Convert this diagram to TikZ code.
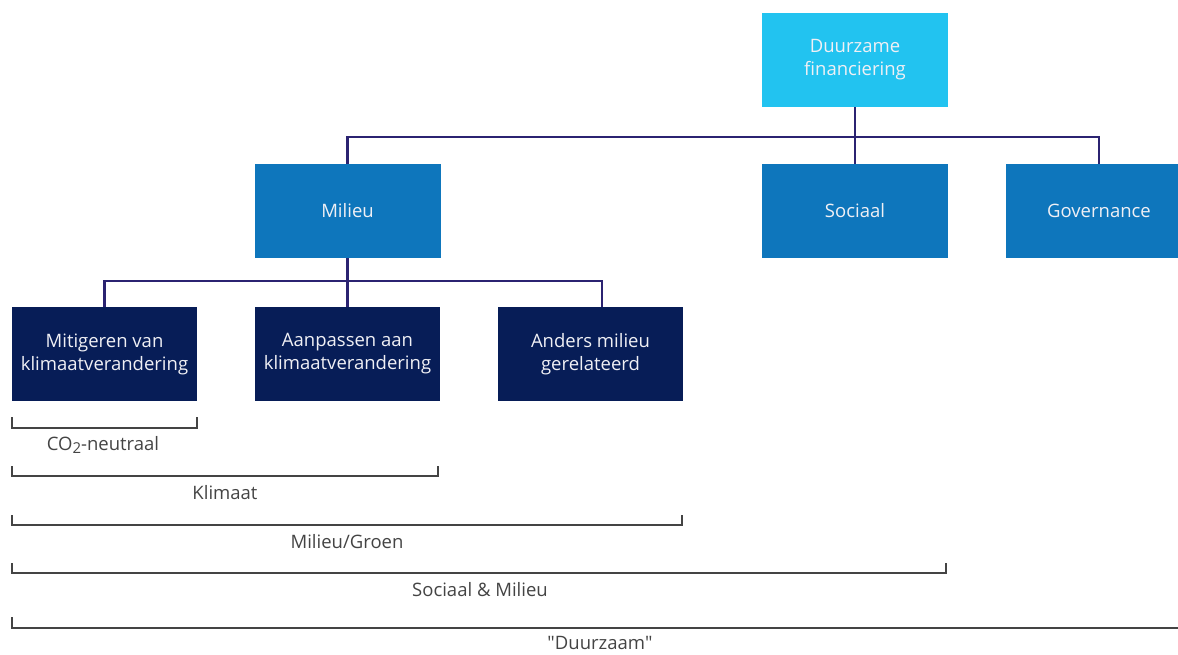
\documentclass[tikz,border=0pt]{standalone}
\usepackage{fontspec}
\setmainfont{Open Sans}
\definecolor{topblue}{HTML}{22C3F0}
\definecolor{midblue}{HTML}{0E76BC}
\definecolor{navy}{HTML}{071D57}
\definecolor{wire}{HTML}{2B2371}
\definecolor{brkgray}{HTML}{444444}
\definecolor{boxtext}{HTML}{F0F0F5}
% straight double quote, set as a glyph so the TeX mapping leaves it alone
\newcommand{\straightdq}{\XeTeXglyph\XeTeXcharglyph"22\relax}
\begin{document}
\begin{tikzpicture}[x=1pt,y=-1pt,
  box/.style={minimum width=186pt,minimum height=94pt,inner sep=0pt,
    text=boxtext,align=center,font=\fontsize{18.5}{23}\selectfont},
  topbox/.style={box,fill=topblue},
  midbox/.style={box,fill=midblue},
  lowbox/.style={box,fill=navy,minimum width=185pt},
  conn/.style={draw=wire,line width=2.7pt},
  brk/.style={draw=brkgray,line width=1.5pt},
  brklabel/.style={text=brkgray,inner sep=0pt,font=\fontsize{18.5}{22}\selectfont}]
\useasboundingbox (0,0) rectangle (1178,654);
\clip (0,0) rectangle (1178,654);

% hierarchy boxes
\node[topbox] (top) at (855,60) {Duurzame\\financiering};
\node[midbox] (milieu) at (347.5,211) {Milieu};
\node[midbox] (soc) at (855,211) {Sociaal};
\node[midbox] (gov) at (1099,211) {Governance};
\node[lowbox] (mit) at (104.5,354) {Mitigeren van\\klimaatverandering};
\node[lowbox] (aan) at (347.5,354) {Aanpassen aan\\klimaatverandering};
\node[lowbox] (and) at (590.5,354) {Anders milieu\\gerelateerd};

% bus lines
\coordinate (busA) at (0,137);
\coordinate (busB) at (0,281);
\coordinate (andTop) at (602,307);

\draw[conn] (top.south) -- (soc.north);
\draw[conn] (milieu.north) -- (milieu.north |- busA) -- (gov.north |- busA) -- (gov.north);
\draw[conn] (milieu.south) -- (aan.north);
\draw[conn] (mit.north) -- (mit.north |- busB) -- (andTop |- busB) -- (andTop);

% scope brackets
\draw[brk] (12,417) -- (12,428) -- (197,428) -- (197,417);
\node[brklabel] (l1) at (103,445) {CO\raisebox{-0.12em}{\fontsize{15}{15}\selectfont 2}-neutraal};

\draw[brk] (12,466) -- (12,476) -- (438,476) -- (438,466);
\node[brklabel] (l2) at (225,493) {Klimaat};

\draw[brk] (12,515) -- (12,525) -- (682,525) -- (682,515);
\node[brklabel] (l3) at (347,542) {Milieu/Groen};

\draw[brk] (12,563) -- (12,573) -- (946,573) -- (946,563);
\node[brklabel] (l4) at (480,590) {Sociaal \& Milieu};

\draw[brk] (12,617) -- (12,628) -- (1180,628);
\node[brklabel] (l5) at (600,643) {\straightdq Duurzaam\straightdq};
\end{tikzpicture}
\end{document}
